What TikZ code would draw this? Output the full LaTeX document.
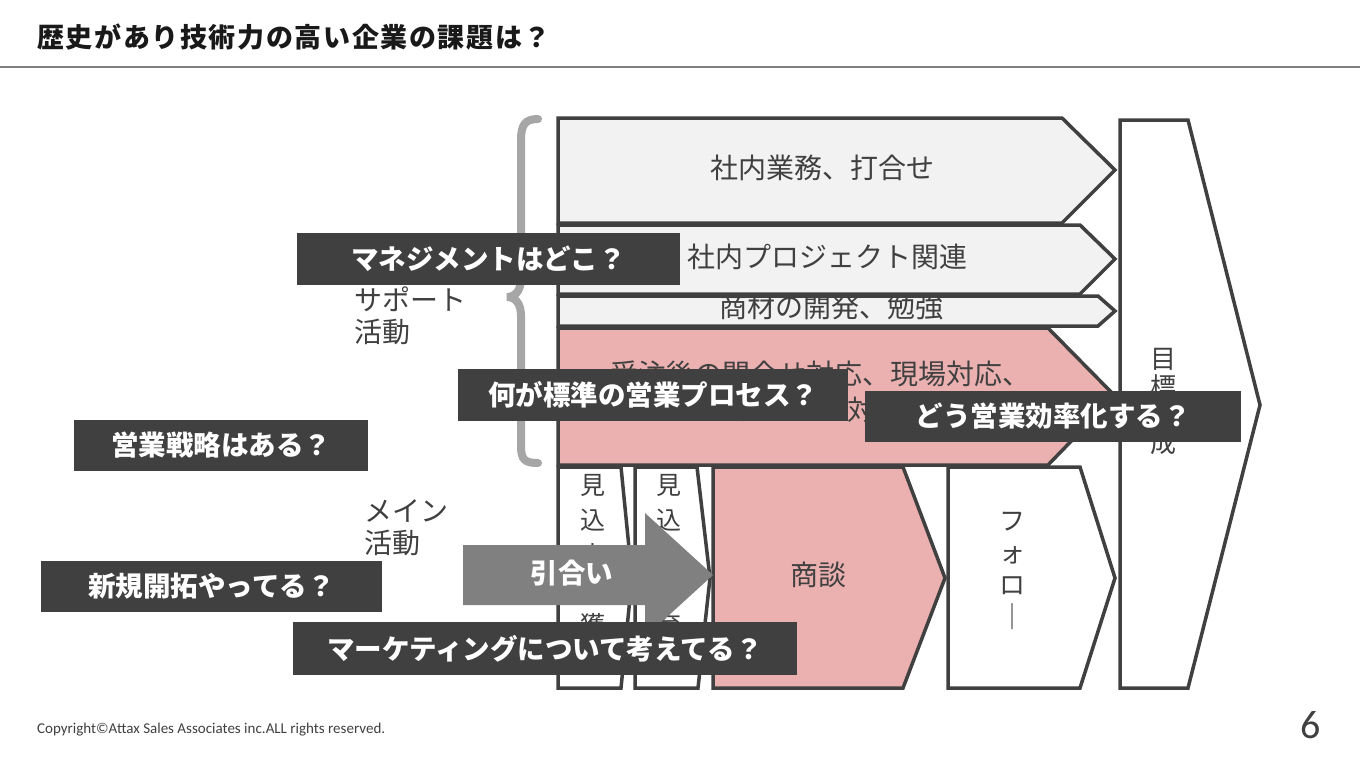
\documentclass[tikz,border=0pt]{standalone}
\usepackage{fontspec}
\setmainfont{Noto Sans CJK JP}
\newfontfamily\jpf{Noto Sans CJK JP}
\newfontfamily\latf{Carlito}
\definecolor{dk}{HTML}{404040}
\definecolor{lightg}{HTML}{F2F2F2}
\definecolor{pinkf}{HTML}{EBB0B0}
\definecolor{arrowg}{HTML}{808080}
\definecolor{bracg}{HTML}{A6A6A6}
\definecolor{rulec}{HTML}{7F7F7F}
\newcommand{\fs}[2]{\fontsize{#1}{#2}\selectfont}
\begin{document}
\begin{tikzpicture}[x=1pt,y=-1pt,
  shp/.style={draw=dk, line width=3.5pt, line join=miter},
  band/.style={shp, fill=lightg},
  pinkband/.style={shp, fill=pinkf},
  whitebox/.style={shp, fill=white},
  lbl/.style={text=dk, inner sep=0pt, font=\jpf\fs{28}{32}},
  vlbl/.style={lbl, align=center, anchor=north},
  qbox/.style={fill=dk, text=white, inner sep=0pt, font=\jpf\bfseries\fs{27.5}{30}},
]
\useasboundingbox (0,0) rectangle (1360,766);
\fill[white] (0,0) rectangle (1360,766);

% title
\node[anchor=west, inner sep=0pt, text=black!90, font=\jpf\bfseries\fs{27}{32}\addfontfeature{LetterSpace=6}] (title) at (37,37) {歴史があり技術力の高い企業の課題は？};
\coordinate (ruleL) at (0,67);
\coordinate (ruleR) at (1360,67);
\draw[rulec, line width=2pt] (ruleL) -- (ruleR);

% brace
\draw[bracg, line width=8pt, line cap=round]
  (538,119) .. controls (525,119) and (521,125) .. (521,140) -- (521,278)
  .. controls (521,291) and (515,297) .. (507,297)
  .. controls (515,297) and (521,303) .. (521,316) -- (521,446)
  .. controls (521,460) and (525,463) .. (538,463);

% support bands
\draw[band] (558,118) -- (1062,118) -- (1115,170) -- (1062,223) -- (558,223) -- cycle;
\draw[band] (558,225) -- (1080,225) -- (1115,259) -- (1080,294) -- (558,294) -- cycle;
\draw[band] (558,296) -- (1098,296) -- (1115,311) -- (1098,326) -- (558,326) -- cycle;
\draw[pinkband] (558,328) -- (1048,328) -- (1115,396) -- (1048,465) -- (558,465) -- cycle;

\node[lbl] (b1) at (822,168) {社内業務、打合せ};
\node[lbl] (b2) at (827,257) {社内プロジェクト関連};
\node[lbl] (b3) at (831,307) {商材の開発、勉強};
\node[lbl, align=center, font=\jpf\fs{28}{36}] (b4) at (820,392) {受注後の問合せ対応、現場対応、\\クレーム対応};

% main activity shapes
\draw[whitebox] (558,467) -- (621,467) -- (632,578) -- (621,688) -- (558,688) -- cycle;
\draw[whitebox] (635,467) -- (697,467) -- (710,578) -- (698,688) -- (635,688) -- cycle;
\draw[pinkband] (713,467) -- (903,467) -- (945,578) -- (903,688) -- (713,688) -- cycle;
\draw[whitebox] (948,467) -- (1080,467) -- (1115,578) -- (1080,688) -- (948,688) -- cycle;
\draw[whitebox] (1120,120) -- (1188,120) -- (1260,405) -- (1188,688) -- (1120,688) -- cycle;

\node[vlbl, font=\jpf\fs{25}{35}] (m1) at (593,474) {見\\込\\客\\の\\獲\\得};
\node[vlbl, font=\jpf\fs{25}{35}] (m2) at (669,474) {見\\込\\客\\の\\育\\成};
\node[lbl] (sd) at (818,575) {商談};
\node[vlbl, font=\jpf\fs{26}{32}] (fl) at (1012,512) {フ\\ォ\\ロ\\｜};
\node[vlbl, font=\jpf\fs{26}{28}] (gl) at (1163,348) {目\\標\\達\\成};

% side labels
\node[lbl, anchor=west, align=left] (sup) at (354,316) {サポート\\活動};
\node[lbl, anchor=west, align=left] (mai) at (364,528) {メイン\\活動};

% arrow
\fill[arrowg] (463,545) -- (645,545) -- (645,513) -- (713,575) -- (645,637) -- (645,605) -- (463,605) -- cycle;
\node[qbox, fill=none] (hk) at (572,573) {引合い};

% question boxes
\node[qbox, minimum width=383pt, minimum height=52pt] (q1) at (488.5,259) {マネジメントはどこ？};
\node[qbox, minimum width=390pt, minimum height=52pt] (q2) at (653,395) {何が標準の営業プロセス？};
\node[qbox, minimum width=376pt, minimum height=51pt] (q3) at (1053,416.5) {どう営業効率化する？};
\node[qbox, minimum width=294pt, minimum height=51pt] (q4) at (221,445.5) {営業戦略はある？};
\node[qbox, minimum width=341pt, minimum height=51pt] (q5) at (211.5,586.5) {新規開拓やってる？};
\node[qbox, minimum width=504pt, minimum height=53pt] (q6) at (545,648.5) {マーケティングについて考えてる？};

% footer
\node[anchor=west, inner sep=0pt, text=dk, font=\latf\fs{15}{17}] (copy) at (37,730) {Copyright©Attax Sales Associates inc.ALL rights reserved.};
\node[inner sep=0pt, text=dk, font=\latf\fs{40}{44}] (pg) at (1311,725) {6};
\end{tikzpicture}
\end{document}
